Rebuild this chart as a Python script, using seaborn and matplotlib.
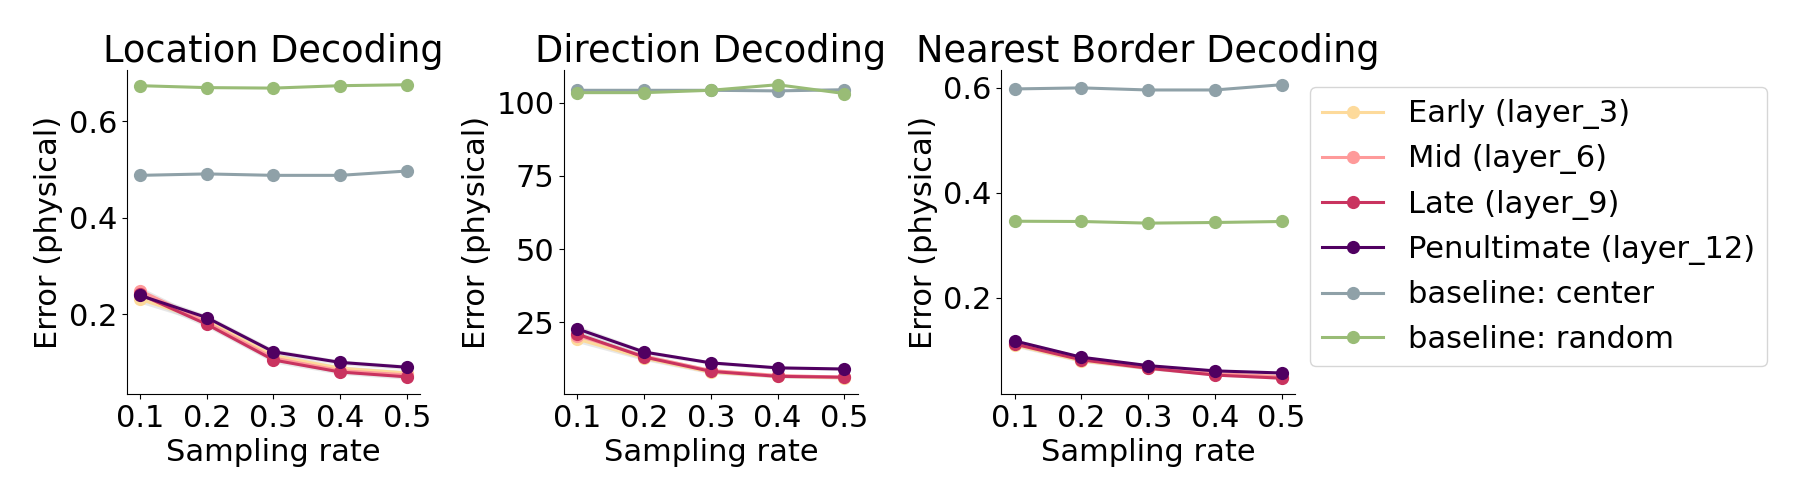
import matplotlib
matplotlib.use("Agg")
import matplotlib.pyplot as plt
import seaborn as sns
import pandas as pd

# sampling rates on x
rates = [0.1, 0.2, 0.3, 0.4, 0.5]

series_names = ["Early (layer_3)", "Mid (layer_6)", "Late (layer_9)",
                "Penultimate (layer_12)", "baseline: center", "baseline: random"]
colors = ["#FDDA9B", "#FE9A9A", "#C9335F", "#500061", "#8FA1A8", "#99BC76"]

# Location decoding
loc_early = [0.231, 0.186, 0.114, 0.088, 0.078]
loc_mid = [0.249, 0.183, 0.109, 0.083, 0.074]
loc_late = [0.241, 0.179, 0.105, 0.080, 0.070]
loc_pen = [0.239, 0.193, 0.122, 0.100, 0.090]
loc_center = [0.488, 0.491, 0.488, 0.488, 0.497]
loc_random = [0.674, 0.670, 0.669, 0.674, 0.676]
loc_err = [0.008, 0.006, 0.006, 0.005, 0.005]

# Direction decoding
dir_early = [19.3, 12.8, 8.0, 6.6, 6.1]
dir_mid = [20.5, 13.5, 8.6, 6.9, 6.3]
dir_late = [21.0, 13.2, 8.3, 6.6, 6.3]
dir_pen = [22.8, 14.9, 11.2, 9.5, 9.1]
dir_center = [104.2, 104.2, 104.2, 104.0, 104.4]
dir_random = [103.4, 103.4, 104.2, 106.1, 103.1]
dir_err = [1.2, 0.8, 0.6, 0.5, 0.5]

# Nearest border decoding
nb_early = [0.110, 0.080, 0.066, 0.055, 0.050]
nb_mid = [0.114, 0.084, 0.068, 0.056, 0.050]
nb_late = [0.112, 0.082, 0.066, 0.053, 0.047]
nb_pen = [0.118, 0.087, 0.071, 0.061, 0.057]
nb_center = [0.598, 0.600, 0.596, 0.596, 0.606]
nb_random = [0.346, 0.3455, 0.3424, 0.3436, 0.3455]
nb_err = [0.004, 0.003, 0.003, 0.002, 0.002]

panels = [
    ("Location Decoding", [loc_early, loc_mid, loc_late, loc_pen, loc_center, loc_random], loc_err),
    ("Direction Decoding", [dir_early, dir_mid, dir_late, dir_pen, dir_center, dir_random], dir_err),
    ("Nearest Border Decoding", [nb_early, nb_mid, nb_late, nb_pen, nb_center, nb_random], nb_err),
]

palette = dict(zip(series_names, colors))

fig, axes = plt.subplots(1, 3, figsize=(18, 5), dpi=100)
fig.subplots_adjust(left=0.0704, right=0.7194, bottom=0.212, top=0.86, wspace=0.49)

for ax, (title, values, err) in zip(axes, panels):
    rows = []
    for name, vals in zip(series_names, values):
        for r, v in zip(rates, vals):
            rows.append({"rate": r, "error": v, "series": name})
    df = pd.DataFrame(rows)

    # light grey bands around the layer curves
    for vals in values[:4]:
        lo = [v - e for v, e in zip(vals, err)]
        hi = [v + e for v, e in zip(vals, err)]
        ax.fill_between(rates, lo, hi, color="lightgrey", alpha=0.5, linewidth=0)

    sns.lineplot(data=df, x="rate", y="error", hue="series", hue_order=series_names,
                 palette=palette, marker="o", markersize=9.5, markeredgewidth=0,
                 linewidth=2.2, ax=ax, legend=(ax is axes[2]))

    ax.set_title(title, fontsize=26.5)
    ax.set_xlabel("Sampling rate", fontsize=22)
    ax.set_ylabel("Error (physical)", fontsize=22)
    ax.set_xticks(rates)
    ax.set_xticklabels(["0.1", "0.2", "0.3", "0.4", "0.5"])
    ax.tick_params(labelsize=22)
    sns.despine(ax=ax)

handles, labels = axes[2].get_legend_handles_labels()
axes[2].get_legend().remove()
fig.legend(handles, labels, loc="upper left", bbox_to_anchor=(0.7278, 0.826),
           borderaxespad=0, fontsize=22, frameon=True)

fig.savefig("out.png", dpi=100)
